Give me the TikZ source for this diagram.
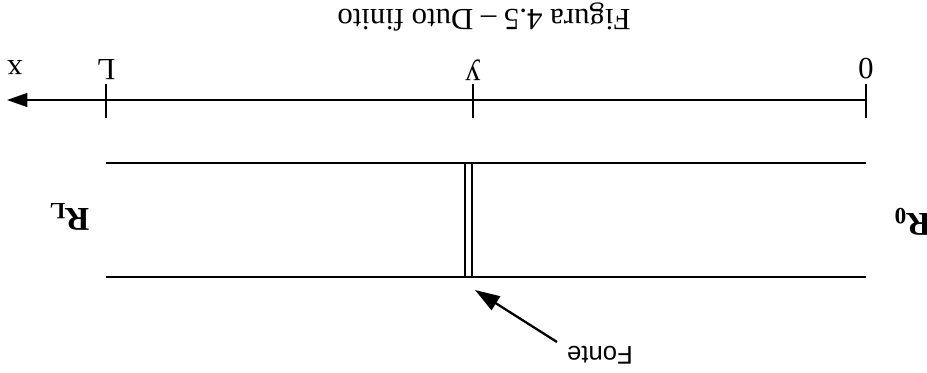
\documentclass[tikz,border=0pt]{standalone}
\usepackage{fontspec}
\setmainfont{Liberation Serif}
\newfontfamily\fontesans{Liberation Sans}
\usetikzlibrary{positioning,arrows.meta}

\begin{document}
\begin{tikzpicture}[x=0.0137cm, y=-0.0137cm,
  every node/.style={font=\fontsize{12}{14}\selectfont, inner sep=0pt, rotate=180},
  tic/.style={line width=0.6pt},
  duct/.style={line width=0.9pt},
  srcline/.style={line width=0.6pt},
  ptr/.style={line width=0.9pt, -{Triangle[length=3.4mm, width=2.2mm]}}]

  \useasboundingbox (0,0) rectangle (927,372);

  % axis
  \coordinate (ax0) at (866,100);
  \coordinate (axy) at (473,100);
  \coordinate (axL) at (106,100);
  \coordinate (axend) at (7,100);
  \draw[line width=0.7pt, -{Triangle[length=2.8mm, width=1.9mm]}] (ax0) -- (axend);
  \foreach \p in {ax0,axy,axL}
    \draw[tic] ([yshift=0.22cm]\p) -- ([yshift=-0.24cm]\p);

  \node (lbl0) at (866,69) {0};
  \node (lbly) at (473,70) {y};
  \node (lblL) at (106,70) {L};
  \node (lblx) at (15,68) {x};

  % duct
  \coordinate (dtl) at (106,163);
  \coordinate (dtr) at (866,163);
  \coordinate (dbl) at (106,277);
  \coordinate (dbr) at (866,277);
  \draw[duct] (dtl) -- (dtr);
  \draw[duct] (dbl) -- (dbr);

  % source
  \draw[srcline] (465,163) -- (465,277);
  \draw[srcline] (472,163) -- (472,277);

  \node[font=\fontsize{13}{15}\selectfont\bfseries] (rL) at (69,217) {R$_{\mathbf{L}}$};
  \node[font=\fontsize{13}{15}\selectfont\bfseries] (r0) at (912,222) {R$_{\mathbf{0}}$};

  \node[font=\fontsize{10}{12}\selectfont\fontesans] (fonte) at (600,355) {Fonte};
  \coordinate (ftail) at (557,342);
  \coordinate (ftip) at (475,290);
  \draw[ptr] (ftail) -- (ftip);

  \node (cap) at (484,17) {Figura 4.5 -- Duto finito};
\end{tikzpicture}
\end{document}
